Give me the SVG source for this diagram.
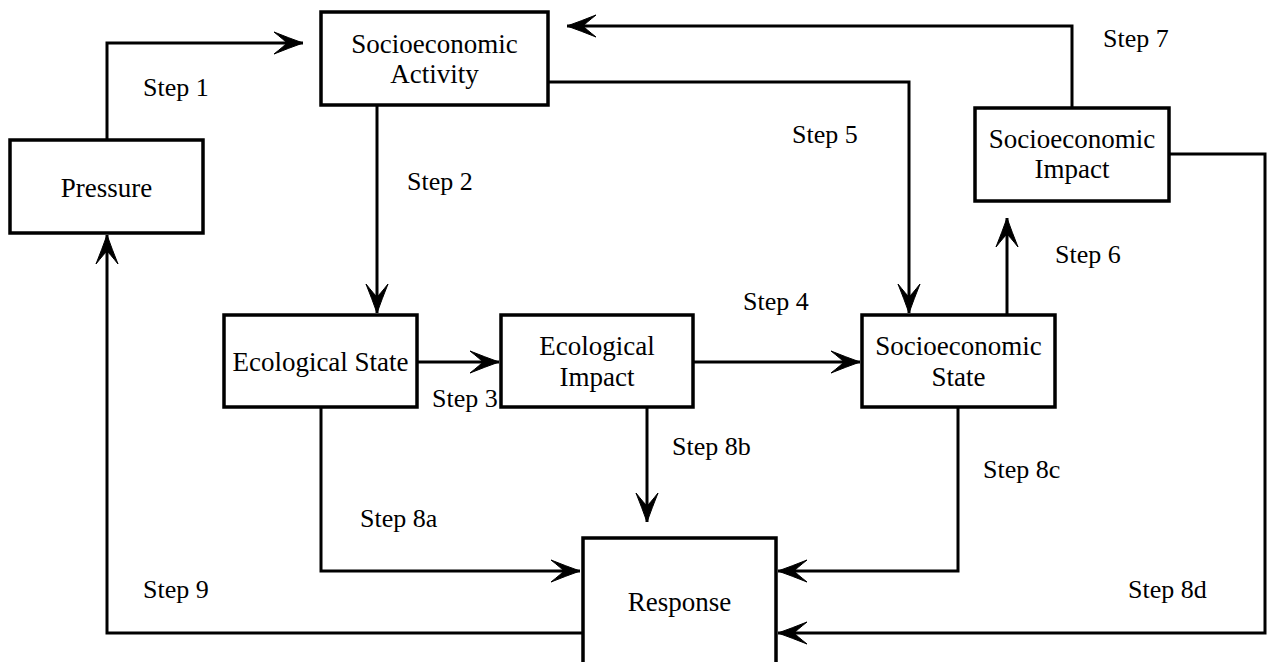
<svg xmlns="http://www.w3.org/2000/svg" width="1267" height="662" viewBox="0 0 1267 662">
<style>
.box{fill:#fff;stroke:#000;stroke-width:3.5}
.lbl{font-family:"Liberation Serif","Times New Roman",serif;font-size:27px;fill:#000;text-anchor:middle}
.step{font-family:"Liberation Serif","Times New Roman",serif;font-size:26px;fill:#000}
.conn{fill:none;stroke:#000;stroke-width:3;marker-end:url(#ah)}
</style>
<defs>
<marker id="ah" viewBox="-31 -13 33 26" markerWidth="33" markerHeight="26" refX="0" refY="0" orient="auto" markerUnits="userSpaceOnUse">
<path d="M0,0 Q-14,-5 -29,-11 Q-19,-3 -16,0 Q-19,3 -29,11 Q-14,5 0,0 Z" fill="#000" stroke="#000" stroke-width="1"/>
</marker>
</defs>
<rect width="1267" height="662" fill="#fff"/>
<g id="connectors">
<path class="conn" d="M107,140 V43 H303"/>
<path class="conn" d="M377,105 V313"/>
<path class="conn" d="M417,362 H499"/>
<path class="conn" d="M693,362 H860"/>
<path class="conn" d="M548,82 H909 V313"/>
<path class="conn" d="M1007,315 V218"/>
<path class="conn" d="M1072,108 V26 H567"/>
<path class="conn" d="M321,407 V571 H580"/>
<path class="conn" d="M647,407 V522"/>
<path class="conn" d="M958,407 V571 H778"/>
<path class="conn" d="M1169,154 H1265 V633 H778"/>
<path class="conn" d="M583,633 H107 V235"/>
</g>
<g id="step-labels">
<text class="step" x="143" y="96">Step 1</text>
<text class="step" x="407" y="190">Step 2</text>
<text class="step" x="432" y="407">Step 3</text>
<text class="step" x="743" y="310">Step 4</text>
<text class="step" x="792" y="143">Step 5</text>
<text class="step" x="1055" y="263">Step 6</text>
<text class="step" x="1103" y="47">Step 7</text>
<text class="step" x="360" y="527">Step 8a</text>
<text class="step" x="672" y="455">Step 8b</text>
<text class="step" x="983" y="478">Step 8c</text>
<text class="step" x="1128" y="598">Step 8d</text>
<text class="step" x="143" y="598">Step 9</text>
</g>
<g id="pressure">
<rect class="box" x="10" y="140" width="193" height="93"/>
<text class="lbl" x="106.5" y="197">Pressure</text>
</g>
<g id="socioeconomic-activity">
<rect class="box" x="321" y="12" width="227" height="93"/>
<text class="lbl" x="434.5" y="53">Socioeconomic</text>
<text class="lbl" x="434.5" y="83">Activity</text>
</g>
<g id="ecological-state">
<rect class="box" x="224" y="315" width="193" height="92"/>
<text class="lbl" x="320.5" y="371">Ecological State</text>
</g>
<g id="ecological-impact">
<rect class="box" x="501" y="315" width="192" height="92"/>
<text class="lbl" x="597" y="355">Ecological</text>
<text class="lbl" x="597" y="386">Impact</text>
</g>
<g id="socioeconomic-state">
<rect class="box" x="862" y="315" width="193" height="92"/>
<text class="lbl" x="958.5" y="355">Socioeconomic</text>
<text class="lbl" x="958.5" y="386">State</text>
</g>
<g id="socioeconomic-impact">
<rect class="box" x="975" y="108" width="194" height="93"/>
<text class="lbl" x="1072" y="148">Socioeconomic</text>
<text class="lbl" x="1072" y="178">Impact</text>
</g>
<g id="response">
<rect class="box" x="583" y="538" width="193" height="135"/>
<text class="lbl" x="679.5" y="611">Response</text>
</g>
</svg>
